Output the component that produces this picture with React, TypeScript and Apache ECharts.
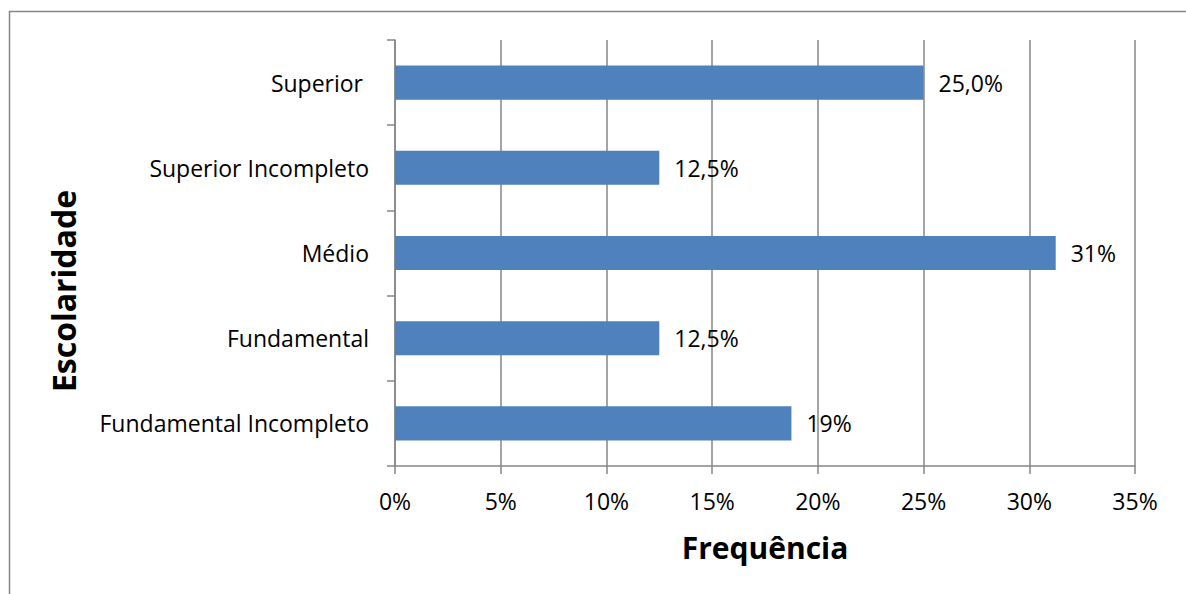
import React, { useEffect, useRef } from "react";
import * as echarts from "echarts";

const categories = [
  "Fundamental Incompleto",
  "Fundamental",
  "Médio",
  "Superior Incompleto",
  "Superior ",
];
const values = [18.75, 12.5, 31.25, 12.5, 25.0];
const valueLabels = ["19%", "12,5%", "31%", "12,5%", "25,0%"];
const xTicks = [0, 5, 10, 15, 20, 25, 30, 35];

const FONT = "'Open Sans', sans-serif";
const GRAY = "#868686";

export default function App() {
  const ref = useRef<HTMLDivElement>(null);
  useEffect(() => {
    document.body.style.margin = "0";
    const chart = echarts.init(ref.current!, null, { renderer: "svg" });
    chart.setOption({
      animation: false,
      backgroundColor: "#fff",
      textStyle: { fontFamily: FONT },
      grid: { left: 395, right: 51, top: 40, bottom: 128, containLabel: false },
      graphic: [
        {
          type: "polyline",
          shape: { points: [[9.5, 700], [9.5, 11.5], [1200, 11.5]] },
          style: { stroke: GRAY, lineWidth: 1.5, fill: null },
        },
        {
          type: "text",
          x: 63,
          y: 291,
          rotation: Math.PI / 2,
          style: {
            text: "Escolaridade",
            fontFamily: FONT,
            fontWeight: "bold",
            fontSize: 32,
            fill: "#000",
            align: "center",
            verticalAlign: "middle",
          },
        },
      ],
      xAxis: {
        type: "value",
        min: xTicks[0],
        max: xTicks[xTicks.length - 1],
        interval: 5,
        name: "Frequência",
        nameLocation: "middle",
        nameGap: 66,
        nameTextStyle: { fontFamily: FONT, fontWeight: "bold", fontSize: 30, color: "#000" },
        axisLine: { show: true, lineStyle: { color: GRAY, width: 1.5 } },
        axisTick: { show: true, length: 8, lineStyle: { color: GRAY, width: 1.5 } },
        splitLine: { show: true, lineStyle: { color: GRAY, width: 1.5 } },
        axisLabel: {
          formatter: (v: number) => `${v}%`,
          fontFamily: FONT,
          fontSize: 23,
          color: "#000",
          margin: 23,
        },
      },
      yAxis: {
        type: "category",
        data: categories,
        boundaryGap: true,
        axisLine: { show: true, lineStyle: { color: GRAY, width: 1.5 } },
        axisTick: { show: true, length: 8, lineStyle: { color: GRAY, width: 1.5 } },
        axisLabel: { fontFamily: FONT, fontSize: 23, color: "#000", margin: 26 },
      },
      series: [
        {
          type: "bar",
          data: values,
          barWidth: "40%",
          itemStyle: { color: "#4F81BD" },
          label: {
            show: true,
            position: "right",
            distance: 15,
            fontFamily: FONT,
            fontSize: 23,
            color: "#000",
            formatter: (p: any) => valueLabels[p.dataIndex],
          },
        },
      ],
    });
    return () => chart.dispose();
  }, []);
  return <div ref={ref} style={{ width: 1186, height: 594 }} />;
}
